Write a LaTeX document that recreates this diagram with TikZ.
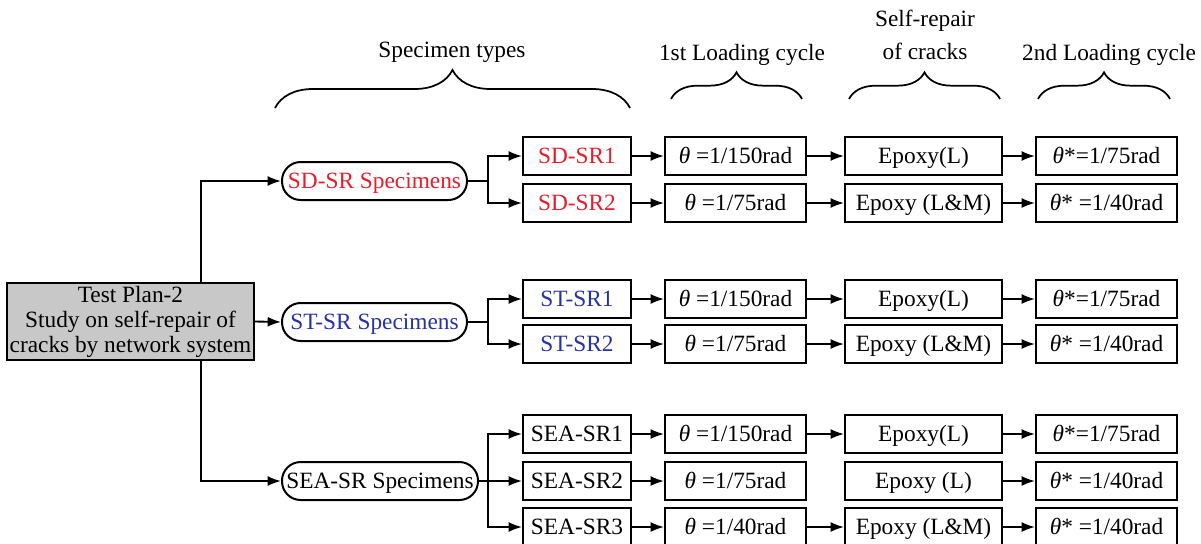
\documentclass[tikz,border=0pt]{standalone}
\usepackage{fontspec}
\setmainfont{Liberation Serif}
\usetikzlibrary{arrows.meta,decorations.pathreplacing,calc}
\definecolor{sdred}{RGB}{232,28,44}
\definecolor{stblue}{RGB}{40,50,160}
\definecolor{plangray}{RGB}{200,200,200}
\begin{document}
\begin{tikzpicture}[x=0.75pt,y=-0.75pt,
  every node/.style={font=\fontsize{17.5}{19}\selectfont, inner sep=0pt},
  box/.style={draw, line width=1.5pt, minimum height=28.5pt, text height=14pt, text depth=3pt},
  typebox/.style={box, minimum width=81pt},
  thbox/.style={box, minimum width=105.75pt},
  epbox/.style={box, minimum width=117.75pt},
  spec/.style={draw, line width=1.5pt, rounded corners=14pt, minimum height=28.5pt, text height=14pt, text depth=3pt},
  arr/.style={line width=1.4pt, -{Latex[length=10pt,width=7.5pt]}},
  ln/.style={line width=1.4pt},
  brc/.style={line width=1.3pt, decorate, decoration={brace, amplitude=#1}},
  hdr/.style={align=center}
]
\useasboundingbox (0,0) rectangle (1201,543);
\clip (0,0) rectangle (1201,543);

% headers
\node[hdr] (hspec) at (452,52) {Specimen types};
\node[hdr] (h1) at (742,55) {1st Loading cycle};
\node[hdr, font=\fontsize{17.5}{25}\selectfont] (hsr) at (925,35) {Self-repair\\of cracks};
\node[hdr] (h2) at (1109,55) {2nd Loading cycle};
\draw[brc=28.5pt] (275,108) -- (630,108);
\draw[brc=20pt] (671,99) -- (802,99);
\draw[brc=20pt] (849,99) -- (1000,99);
\draw[brc=20pt] (1038,99) -- (1170,99);

% test plan
\node[draw, line width=1.6pt, fill=plangray, minimum width=185.25pt, minimum height=57.75pt, align=center,
      font=\fontsize{17.5}{18.75}\selectfont] (tp) at (130.5,321.5)
  {Test Plan-2\\Study on self-repair of\\cracks by network system};

% specimen groups
\node[spec, minimum width=138.75pt, text=sdred] (sd) at (374.5,181) {SD-SR Specimens};
\node[spec, minimum width=138.75pt, text=stblue] (st) at (374.5,322) {ST-SR Specimens};
\node[spec, minimum width=147pt] (sea) at (380,481) {SEA-SR Specimens};

\coordinate (tpu) at (201,283);
\coordinate (tpd) at (201,360);
\draw[arr] (tpu) |- (sd.west);
\draw[arr] (tp.east) -- (st.west);
\draw[arr] (tpd) |- (sea.west);

% type boxes
\node[typebox, text=sdred] (sd1) at (577,156) {SD-SR1};
\node[typebox, text=sdred] (sd2) at (577,203) {SD-SR2};
\node[typebox, text=stblue] (st1) at (577,299) {ST-SR1};
\node[typebox, text=stblue] (st2) at (577,344) {ST-SR2};
\node[typebox] (sea1) at (577,434) {SEA-SR1};
\node[typebox] (sea2) at (577,481) {SEA-SR2};
\node[typebox] (sea3) at (577,527) {SEA-SR3};

\coordinate (sdb) at (488,181);
\coordinate (stb) at (488,322);
\coordinate (seab) at (488,481);
\draw[ln] (sd.east) -- (sdb);
\draw[arr] (sdb) |- (sd1.west);
\draw[arr] (sdb) |- (sd2.west);
\draw[ln] (st.east) -- (stb);
\draw[arr] (stb) |- (st1.west);
\draw[arr] (stb) |- (st2.west);
\draw[ln] (sea.east) -- (seab);
\draw[arr] (seab) |- (sea1.west);
\draw[arr] (seab) -- (sea2.west);
\draw[arr] (seab) |- (sea3.west);

% loading / repair chains
\foreach \n/\y/\a/\b/\c/\e in {
  sd1/156/{\textit{θ} =1/150rad}/{Epoxy(L)}/{\textit{θ}*=1/75rad}/1,
  sd2/203/{\textit{θ} =1/75rad}/{Epoxy (L\&M)}/{\textit{θ}* =1/40rad}/1,
  st1/299/{\textit{θ} =1/150rad}/{Epoxy(L)}/{\textit{θ}*=1/75rad}/1,
  st2/344/{\textit{θ} =1/75rad}/{Epoxy (L\&M)}/{\textit{θ}* =1/40rad}/1,
  sea1/434/{\textit{θ} =1/150rad}/{Epoxy(L)}/{\textit{θ}*=1/75rad}/1,
  sea2/481/{\textit{θ} =1/75rad}/{Epoxy (L)}/{\textit{θ}* =1/40rad}/0,
  sea3/527/{\textit{θ} =1/40rad}/{Epoxy (L\&M)}/{\textit{θ}* =1/40rad}/1}
{
  \node[thbox] (\n a) at (735.5,\y) {\a};
  \node[epbox] (\n b) at (923.5,\y) {\b};
  \node[thbox] (\n c) at (1106.5,\y) {\c};
  \draw[arr] (\n.east) -- (\n a.west);
  \ifnum\e=1 \draw[arr] (\n a.east) -- (\n b.west); \fi
  \draw[arr] (\n b.east) -- (\n c.west);
}
\end{tikzpicture}
\end{document}
